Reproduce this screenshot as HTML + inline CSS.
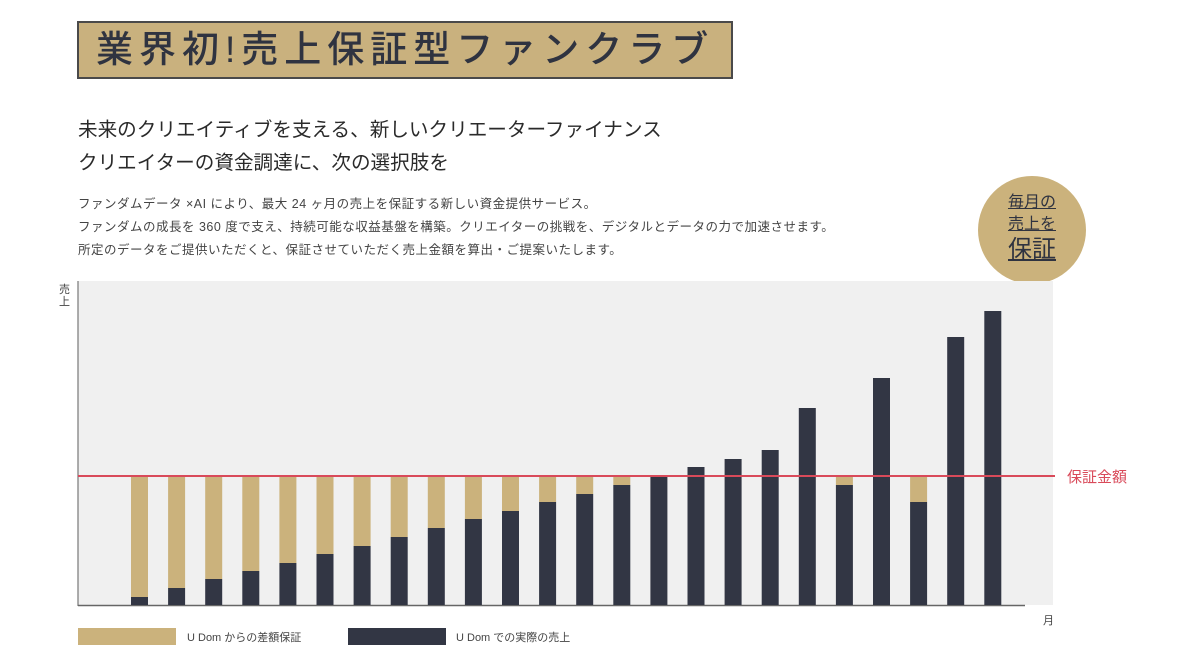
<!DOCTYPE html>
<html><head><meta charset="utf-8"><style>
html,body{margin:0;padding:0;background:#fff;}
body{width:1200px;height:672px;position:relative;overflow:hidden;font-family:"Liberation Sans","Noto Sans CJK JP",sans-serif;color:#333;}
.title{position:absolute;left:77px;top:21px;width:656px;height:58px;background:#c9b17e;border:2px solid #4a4a4a;box-sizing:border-box;font-size:37px;color:#2f3340;line-height:54px;padding-left:17px;letter-spacing:6px;font-weight:500;white-space:nowrap;overflow:hidden;}
.sub{position:absolute;left:78px;font-size:19.6px;color:#2a2a2a;letter-spacing:0;white-space:nowrap;}
.body{position:absolute;left:78px;font-size:12.5px;color:#444;letter-spacing:0.5px;white-space:nowrap;}
.badge{position:absolute;left:978px;top:176px;width:108px;height:108px;border-radius:50%;background:#cbb27c;text-align:center;color:#2f3340;}
.badge span{text-decoration:underline;display:block;}
</style></head><body>
<div class="title">業界初!売上保証型ファンクラブ</div>
<div class="sub" style="top:113px">未来のクリエイティブを支える、新しいクリエーターファイナンス</div>
<div class="sub" style="top:146px">クリエイターの資金調達に、次の選択肢を</div>
<div class="body" style="top:193px">ファンダムデータ ×AI により、最大 24 ヶ月の売上を保証する新しい資金提供サービス。</div>
<div class="body" style="top:216px">ファンダムの成長を 360 度で支え、持続可能な収益基盤を構築。クリエイターの挑戦を、デジタルとデータの力で加速させます。</div>
<div class="body" style="top:239px">所定のデータをご提供いただくと、保証させていただく売上金額を算出・ご提案いたします。</div>
<div class="badge"><span style="font-size:16px;margin-top:16px;line-height:22px">毎月の</span><span style="font-size:16px;line-height:22px">売上を</span><span style="font-size:24px;line-height:28px">保証</span></div>
<svg width="1200" height="672" style="position:absolute;left:0;top:0" xmlns="http://www.w3.org/2000/svg">
<rect x="78" y="281" width="975" height="324" fill="#f0f0f0"/>
<line x1="78" y1="281" x2="78" y2="606" stroke="#777" stroke-width="1.2"/>
<line x1="78" y1="605.5" x2="1025" y2="605.5" stroke="#666" stroke-width="1.5"/>
<g id="bars"></g>
<line x1="78" y1="476" x2="1055" y2="476" stroke="#d94a5a" stroke-width="2"/>
<text x="1067" y="482" font-size="15" fill="#d94a5a" font-family="Liberation Sans, Noto Sans CJK JP, sans-serif">保証金額</text>
<text x="59" y="293" font-size="11" fill="#444" font-family="Liberation Sans, Noto Sans CJK JP, sans-serif">売</text>
<text x="59" y="305" font-size="11" fill="#444" font-family="Liberation Sans, Noto Sans CJK JP, sans-serif">上</text>
<text x="1043" y="624" font-size="11" fill="#444" font-family="Liberation Sans, Noto Sans CJK JP, sans-serif">月</text>
<rect x="78" y="628" width="98" height="17" fill="#cbb27c"/>
<text x="187" y="641" font-size="11" fill="#444" font-family="Liberation Sans, Noto Sans CJK JP, sans-serif">U Dom からの差額保証</text>
<rect x="348" y="628" width="98" height="17" fill="#323644"/>
<text x="456" y="641" font-size="11" fill="#444" font-family="Liberation Sans, Noto Sans CJK JP, sans-serif">U Dom での実際の売上</text>
</svg>
<script>
var tops=[597,588,579,571,563,554,546,537,528,519,511,502,494,485,476,467,459,450,408,485,378,502,337,311];
var g=document.getElementById('bars'),s='';
for(var i=0;i<24;i++){var x=131+i*37.1,t=tops[i];
if(t>476)s+='<rect x="'+x+'" y="476" width="17" height="'+(t-476)+'" fill="#cbb27c"/>';
s+='<rect x="'+x+'" y="'+t+'" width="17" height="'+(605-t)+'" fill="#323644"/>';}
g.innerHTML=s;
</script>
</body></html>
